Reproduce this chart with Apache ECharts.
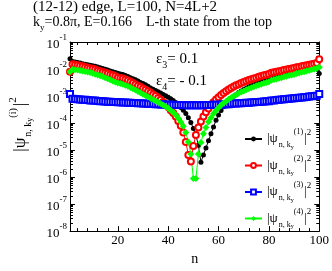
<!DOCTYPE html>
<html><head><meta charset="utf-8">
<script src="https://cdn.jsdelivr.net/npm/echarts@6/dist/echarts.min.js"></script>
<style>html,body{margin:0;padding:0;background:#fff}#c{width:332px;height:271px}</style>
</head><body><div id="c"></div>
<script>
const nValues = [1,2,3,4,5,6,7,8,9,10,11,12,13,14,15,16,17,18,19,20,
21,22,23,24,25,26,27,28,29,30,31,32,33,34,35,36,37,38,39,40,
41,42,43,44,45,46,47,48,49,50,51,52,53,54,55,56,57,58,59,60,
61,62,63,64,65,66,67,68,69,70,71,72,73,74,75,76,77,78,79,80,
81,82,83,84,85,86,87,88,89,90,91,92,93,94,95,96,97,98,99,100];

const psi1 = [2.4e-2,1.9e-2,1.8e-2,1.74e-2,1.66e-2,1.58e-2,1.51e-2,1.45e-2,1.38e-2,1.32e-2,
1.26e-2,1.2e-2,1.12e-2,1.05e-2,9.8e-3,9.1e-3,8.5e-3,7.9e-3,7.4e-3,6.9e-3,
6.6e-3,6.3e-3,5.75e-3,5.25e-3,4.8e-3,4.4e-3,4.0e-3,3.6e-3,3.2e-3,2.9e-3,
2.6e-3,2.3e-3,2.0e-3,1.8e-3,1.6e-3,1.45e-3,1.3e-3,1.15e-3,1.02e-3,9.1e-4,
7.9e-4,6.8e-4,5.75e-4,4.8e-4,3.8e-4,2.95e-4,2.24e-4,1.58e-4,1.05e-4,6.3e-5,
3.55e-5,1.5e-5,3.55e-6,6.6e-6,1.2e-5,2.2e-5,4.0e-5,7.2e-5,1.26e-4,2.0e-4,
2.9e-4,4.0e-4,5.25e-4,6.6e-4,8.1e-4,9.8e-4,1.15e-3,1.35e-3,1.55e-3,1.74e-3,
1.95e-3,2.19e-3,2.4e-3,2.63e-3,2.9e-3,3.16e-3,3.39e-3,3.63e-3,3.89e-3,4.17e-3,
4.8e-3,5.13e-3,5.5e-3,5.9e-3,6.3e-3,6.76e-3,7.24e-3,7.6e-3,7.9e-3,8.3e-3,
8.7e-3,9.1e-3,9.55e-3,1.0e-2,1.05e-2,1.1e-2,1.15e-2,1.2e-2,1.26e-2,6.76e-3];

const psi2 = [7.9e-3,1.51e-2,1.45e-2,1.38e-2,1.32e-2,1.26e-2,1.2e-2,1.12e-2,1.07e-2,1.02e-2,
9.55e-3,8.9e-3,8.3e-3,7.76e-3,7.24e-3,6.76e-3,6.3e-3,5.9e-3,5.37e-3,4.9e-3,
4.68e-3,4.47e-3,4.07e-3,3.72e-3,3.39e-3,3.02e-3,2.69e-3,2.4e-3,2.14e-3,1.9e-3,
1.7e-3,1.51e-3,1.32e-3,1.15e-3,1.0e-3,8.5e-4,7.24e-4,6.0e-4,4.9e-4,3.9e-4,
3.0e-4,2.34e-4,1.74e-4,1.2e-4,7.9e-5,4.5e-5,2.0e-5,6.6e-6,3.8e-6,1.41e-5,
3.63e-5,6.9e-5,1.15e-4,1.74e-4,2.5e-4,3.47e-4,4.57e-4,5.9e-4,7.4e-4,9.1e-4,
1.1e-3,1.29e-3,1.51e-3,1.74e-3,2.0e-3,2.24e-3,2.5e-3,2.75e-3,3.02e-3,3.3e-3,
3.63e-3,3.89e-3,4.17e-3,4.47e-3,4.8e-3,5.13e-3,5.5e-3,5.9e-3,6.17e-3,6.6e-3,
7.24e-3,7.6e-3,7.9e-3,8.3e-3,8.7e-3,9.1e-3,9.55e-3,1.0e-2,1.05e-2,1.1e-2,
1.15e-2,1.2e-2,1.26e-2,1.32e-2,1.38e-2,1.45e-2,1.51e-2,1.58e-2,1.66e-2,2.3e-2];

const psi3 = [1.2e-3,7.9e-4,7.76e-4,7.6e-4,7.4e-4,7.24e-4,7.24e-4,7.08e-4,6.9e-4,6.76e-4,
6.76e-4,6.6e-4,6.46e-4,6.46e-4,6.3e-4,6.17e-4,6.17e-4,6.03e-4,6.03e-4,5.9e-4,
5.9e-4,5.75e-4,5.75e-4,5.62e-4,5.62e-4,5.5e-4,5.5e-4,5.37e-4,5.37e-4,5.25e-4,
5.25e-4,5.13e-4,5.13e-4,5.13e-4,5.0e-4,5.0e-4,4.9e-4,4.9e-4,4.9e-4,4.8e-4,
4.8e-4,4.8e-4,4.68e-4,4.68e-4,4.68e-4,4.68e-4,4.57e-4,4.57e-4,4.57e-4,4.57e-4,
4.57e-4,4.57e-4,4.57e-4,4.57e-4,4.68e-4,4.68e-4,4.68e-4,4.8e-4,4.8e-4,4.8e-4,
4.9e-4,4.9e-4,5.0e-4,5.0e-4,5.13e-4,5.25e-4,5.25e-4,5.37e-4,5.37e-4,5.5e-4,
5.62e-4,5.62e-4,5.75e-4,5.9e-4,6.03e-4,6.03e-4,6.17e-4,6.3e-4,6.46e-4,6.46e-4,
6.76e-4,6.9e-4,7.08e-4,7.24e-4,7.4e-4,7.6e-4,7.76e-4,7.9e-4,8.1e-4,8.3e-4,
8.5e-4,8.7e-4,8.9e-4,9.1e-4,9.3e-4,9.55e-4,9.8e-4,1.0e-3,1.02e-3,1.2e-3];

const psi4 = [7.9e-3,9.55e-3,9.3e-3,9.1e-3,8.9e-3,8.5e-3,8.1e-3,7.76e-3,7.4e-3,6.9e-3,
6.46e-3,6.03e-3,5.62e-3,5.25e-3,4.8e-3,4.37e-3,4.0e-3,3.63e-3,3.3e-3,3.02e-3,
2.88e-3,2.75e-3,2.5e-3,2.29e-3,2.09e-3,1.86e-3,1.66e-3,1.48e-3,1.32e-3,1.17e-3,
1.05e-3,9.3e-4,8.3e-4,7.4e-4,6.6e-4,5.9e-4,5.25e-4,4.68e-4,4.07e-4,3.55e-4,
3.0e-4,2.5e-4,2.0e-4,1.51e-4,1.1e-4,7.6e-5,4.5e-5,2.0e-5,7.1e-6,8.9e-7,
8.9e-7,7.1e-6,1.9e-5,4.0e-5,6.9e-5,1.12e-4,1.58e-4,2.19e-4,2.9e-4,3.72e-4,
4.57e-4,5.5e-4,6.46e-4,7.6e-4,8.7e-4,1.0e-3,1.12e-3,1.26e-3,1.41e-3,1.55e-3,
1.7e-3,1.86e-3,2.04e-3,2.19e-3,2.4e-3,2.57e-3,2.75e-3,2.95e-3,3.16e-3,3.39e-3,
3.8e-3,4.07e-3,4.27e-3,4.57e-3,4.8e-3,5.13e-3,5.37e-3,5.75e-3,6.03e-3,6.3e-3,
6.76e-3,7.08e-3,7.6e-3,7.9e-3,8.5e-3,8.9e-3,9.55e-3,1.0e-2,1.05e-2,1.17e-2];

const seriesNames = ['1', '2', '3', '4'];
const xMin = 1, xMax = 100;
const yMin = 1e-8, yMax = 1e-1;

const serif = '"Liberation Serif", "DejaVu Serif", serif';
const chart = echarts.init(document.getElementById('c'), null, {renderer: 'canvas'});

function pairs(arr) { return arr.map((v, i) => [nValues[i], v]); }

const legendRich = {
  a: {fontFamily: serif, fontSize: 13, color: '#000', lineHeight: 22, verticalAlign: 'middle'},
  b: {fontFamily: serif, fontSize: 8, color: '#000', verticalAlign: 'bottom', padding: [0, 0, 1, 1]},
  c: {fontFamily: serif, fontSize: 6, color: '#000', verticalAlign: 'bottom'},
  d: {fontFamily: serif, fontSize: 8, color: '#000', verticalAlign: 'top', padding: [0, 1, 0, 0]},
  e: {fontFamily: serif, fontSize: 9, color: '#000', verticalAlign: 'top'}
};

const option = {
  animation: false,
  backgroundColor: '#fff',
  grid: {left: 57, right: 8, top: 42, bottom: 26, containLabel: false},
  xAxis: [{
    type: 'value', min: xMin, max: xMax, splitNumber: 5, position: 'bottom',
    name: 'n', nameLocation: 'middle', nameGap: 17,
    nameTextStyle: {fontFamily: serif, fontSize: 14, color: '#000'},
    axisLine: {show: true, lineStyle: {color: '#000', width: 1}},
    axisTick: {show: true, inside: true, length: 5, lineStyle: {color: '#000'}},
    minorTick: {show: true, splitNumber: 5, length: 3, lineStyle: {color: '#000'}},
    axisLabel: {fontFamily: serif, fontSize: 13, color: '#000', margin: 3, showMinLabel: false},
    splitLine: {show: false}
  }, {
    type: 'value', min: xMin, max: xMax, splitNumber: 5, position: 'top',
    axisLine: {show: true, lineStyle: {color: '#000', width: 1}},
    axisTick: {show: true, inside: true, length: 5, lineStyle: {color: '#000'}},
    minorTick: {show: true, splitNumber: 5, length: 3, lineStyle: {color: '#000'}},
    axisLabel: {show: false},
    splitLine: {show: false}
  }],
  yAxis: [{
    type: 'log', logBase: 10, min: yMin, max: yMax, position: 'left',
    name: '{a||ψ}{b|n, k}{c|y}{d|(i)}{a||}{e|2}',
    nameLocation: 'middle', nameGap: 36, nameRotate: 90,
    nameTextStyle: {padding: [0, 0, 0, 24], rich: {
      a: {fontFamily: serif, fontSize: 17, color: '#000', lineHeight: 26, verticalAlign: 'middle'},
      b: {fontFamily: serif, fontSize: 10, color: '#000', verticalAlign: 'bottom', padding: [0, 0, 1, 1]},
      c: {fontFamily: serif, fontSize: 8, color: '#000', verticalAlign: 'bottom'},
      d: {fontFamily: serif, fontSize: 10, color: '#000', verticalAlign: 'top', padding: [0, 2, 0, 0]},
      e: {fontFamily: serif, fontSize: 11, color: '#000', verticalAlign: 'top'}
    }},
    axisLine: {show: true, lineStyle: {color: '#000', width: 1}},
    axisTick: {show: true, inside: true, length: 5, lineStyle: {color: '#000'}},
    minorTick: {show: true, splitNumber: 9, length: 3, lineStyle: {color: '#000'}},
    axisLabel: {
      margin: 3,
      formatter: function (v) { return '{b|10}{s|' + Math.round(Math.log10(v)) + '}'; },
      rich: {
        b: {fontFamily: serif, fontSize: 13, color: '#000', lineHeight: 18, verticalAlign: 'bottom'},
        s: {fontFamily: serif, fontSize: 9, color: '#000', verticalAlign: 'top'}
      }
    },
    splitLine: {show: false}
  }, {
    type: 'log', logBase: 10, min: yMin, max: yMax, position: 'right',
    axisLine: {show: true, lineStyle: {color: '#000', width: 1}},
    axisTick: {show: true, inside: true, length: 5, lineStyle: {color: '#000'}},
    minorTick: {show: true, splitNumber: 9, length: 3, lineStyle: {color: '#000'}},
    axisLabel: {show: false},
    splitLine: {show: false}
  }],
  legend: {
    orient: 'vertical', left: 239, top: 123, itemWidth: 17, itemHeight: 6, itemGap: 4.5,
    data: seriesNames,
    formatter: function (name) { return '{a||ψ}{b|n, k}{c|y}{d|(' + name + ')}{a||}{e|2}'; },
    textStyle: {rich: legendRich},
    selectedMode: false
  },
  graphic: [
    {type: 'text', left: 33, top: 0, style: {text: '(12-12) edge, L=100, N=4L+2', font: '15px ' + serif, fill: '#000'}},
    {type: 'text', left: 33, top: 15, style: {
      text: '{m|k}{s|y}{m|=0.8π, E=0.166    L-th state from the top}',
      rich: {
        m: {fontFamily: serif, fontSize: 14, fill: '#000', lineHeight: 17, verticalAlign: 'top'},
        s: {fontFamily: serif, fontSize: 9, fill: '#000', verticalAlign: 'bottom'}
      }}},
    {type: 'text', left: 156, top: 52, style: {
      text: '{m|ε}{s|3}{m|= 0.1}',
      rich: {
        m: {fontFamily: serif, fontSize: 15, fill: '#000', lineHeight: 18, verticalAlign: 'top'},
        s: {fontFamily: serif, fontSize: 10, fill: '#000', verticalAlign: 'bottom'}
      }}},
    {type: 'text', left: 156, top: 74, style: {
      text: '{m|ε}{s|4}{m|= - 0.1}',
      rich: {
        m: {fontFamily: serif, fontSize: 15, fill: '#000', lineHeight: 18, verticalAlign: 'top'},
        s: {fontFamily: serif, fontSize: 10, fill: '#000', verticalAlign: 'bottom'}
      }}}
  ],
  series: [
    {name: seriesNames[0], type: 'line', data: pairs(psi1), symbol: 'circle', symbolSize: 5,
     itemStyle: {color: '#000'}, lineStyle: {color: '#000', width: 1}},
    {name: seriesNames[1], type: 'line', data: pairs(psi2), symbol: 'emptyCircle', symbolSize: 6,
     itemStyle: {color: '#ff0000', borderWidth: 1}, lineStyle: {color: '#ff0000', width: 1}},
    {name: seriesNames[2], type: 'line', data: pairs(psi3), symbol: 'emptyRect', symbolSize: 6,
     itemStyle: {color: '#0000ff', borderWidth: 1}, lineStyle: {color: '#0000ff', width: 1}},
    {name: seriesNames[3], type: 'line', data: pairs(psi4), symbol: 'diamond', symbolSize: 7,
     itemStyle: {color: '#00ff00'}, lineStyle: {color: '#00ff00', width: 1}}
  ]
};
chart.setOption(option);
</script>
</body></html>
